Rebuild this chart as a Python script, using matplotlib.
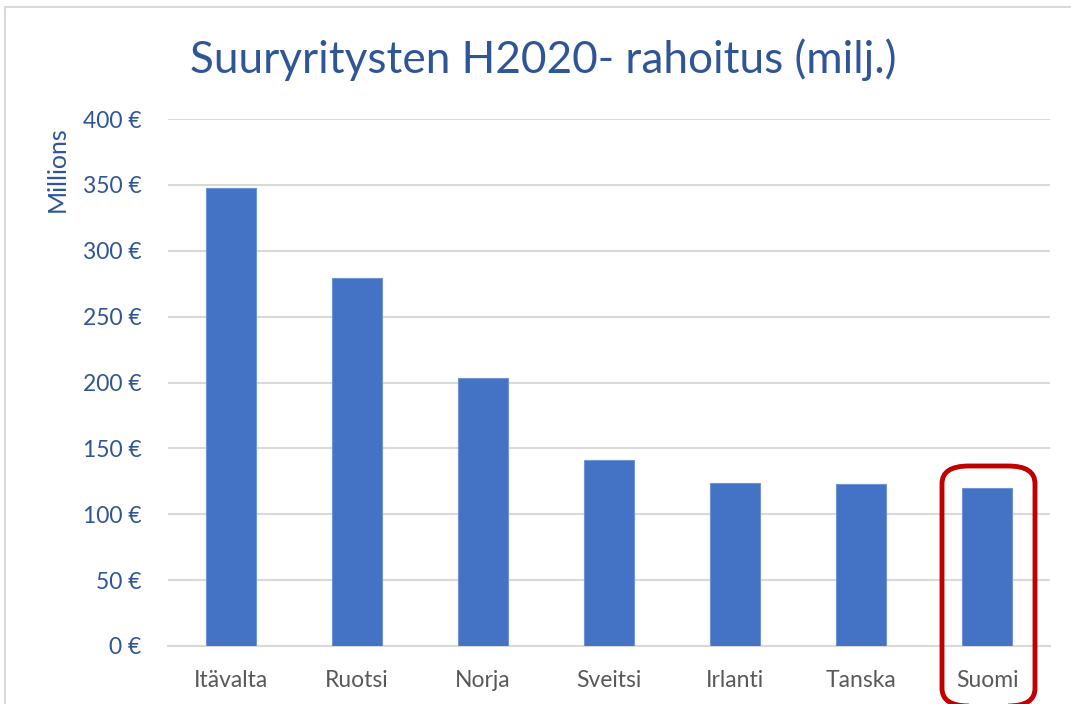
import matplotlib
matplotlib.use("Agg")
from matplotlib import pyplot as plt
from matplotlib.patches import FancyBboxPatch, Rectangle
from matplotlib.ticker import FuncFormatter

maat = ["Itävalta", "Ruotsi", "Norja", "Sveitsi", "Irlanti", "Tanska", "Suomi"]
rahoitus = [347.4, 279.5, 203.3, 141.0, 123.6, 123.0, 120.3]
y_ticks = [0, 50, 100, 150, 200, 250, 300, 350, 400]

plt.rcParams['font.family'] = ['Lato', 'DejaVu Sans']

BLUE = "#4472C4"
TEXT_BLUE = "#2F5597"
GRID = "#D9D9D9"

fig = plt.figure(figsize=(10.71, 7.04), dpi=100)
ax = fig.add_axes([168 / 1071, 1 - 646 / 704, 882 / 1071, 527 / 704])

x = range(len(maat))
ax.bar(x, rahoitus, width=0.4, color=BLUE, edgecolor="#6F93D4", linewidth=0.8, zorder=3)
ax.set_xlim(-0.5, len(maat) - 0.5)
ax.set_ylim(0, 400)
ax.set_yticks(y_ticks)
ax.yaxis.set_major_formatter(FuncFormatter(lambda v, p: f"{int(v)} €"))
ax.set_xticks(list(x))
ax.set_xticklabels(maat)

ax.grid(axis="y", color=GRID, linewidth=1.5, zorder=0)
for s in ["top", "right", "left"]:
    ax.spines[s].set_visible(False)
ax.spines["bottom"].set_color(GRID)
ax.spines["bottom"].set_linewidth(1.5)
ax.tick_params(axis="both", length=0)
ax.tick_params(axis="y", labelsize=16.5, labelcolor=TEXT_BLUE, pad=19)
ax.tick_params(axis="x", labelsize=16.5, labelcolor="#595959", pad=17)

ax.set_ylabel("Millions", fontsize=18, color=TEXT_BLUE)
ax.yaxis.set_label_coords(-0.112, 0.905)

fig.text(543 / 1071, 1 - 60 / 704, "Suuryritysten H2020- rahoitus (milj.)",
         fontsize=31.8, color=TEXT_BLUE, ha="center", va="center")

# chart frame
fig.patches.append(Rectangle((5 / 1071, -0.05), 1.2, 1 - 7 / 704 + 0.05,
                             transform=fig.transFigure, fill=False,
                             edgecolor="#D9D9D9", linewidth=1.5))

# highlight for Suomi
fig.patches.append(FancyBboxPatch((942 / 1071, 1 - 706 / 704), 93 / 1071, 240 / 704,
                                  boxstyle="round,pad=0,rounding_size=0.025",
                                  transform=fig.transFigure, fill=False,
                                  edgecolor="#C00000", linewidth=3.5, zorder=10))

fig.savefig("out.png", dpi=100)
